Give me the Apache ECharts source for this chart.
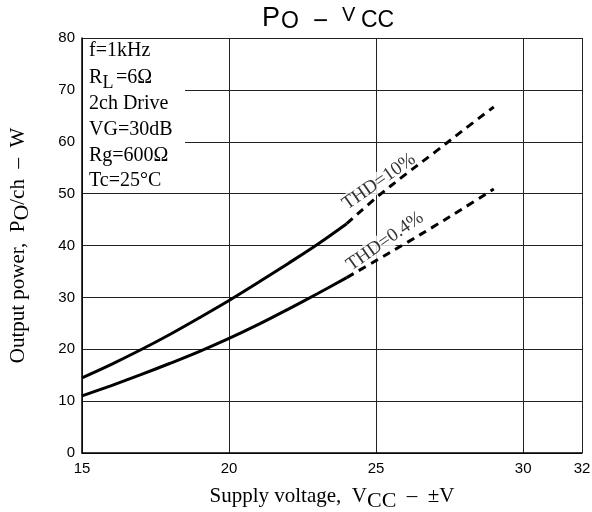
<!DOCTYPE html>
<html><head><meta charset="utf-8">
<script src="https://cdn.jsdelivr.net/npm/echarts@6/dist/echarts.min.js"></script>
<style>html,body{margin:0;padding:0;background:#fff}#c{width:592px;height:512px}</style>
</head><body><div id="c"></div>
<script>
// Data
const xTicks = [15, 20, 25, 30, 32];
const yTicks = [0, 10, 20, 30, 40, 50, 60, 70, 80];
const thd10Solid = [[15,14.5],[16,17.1],[17,19.9],[18,22.9],[19,26.1],[20,29.4],[21,32.9],[22,36.5],[23,40.2],[24,44.2]];
const thd10Dash = [[24,44.2],[25,49.2],[26,53.7],[27,58.0],[28,62.4],[29,66.7]];
const thd04Solid = [[15,11.0],[16,13.0],[17,15.1],[18,17.3],[19,19.6],[20,22.1],[21,24.8],[22,27.7],[23,30.7],[24,33.8]];
const thd04Dash = [[24,33.8],[25,37.1],[26,40.4],[27,43.8],[28,47.3],[29,50.9]];
const curveLabels = [['THD=10%', 25.1, 52.3], ['THD=0.4%', 25.3, 40.8]];
const conditions = ['f=1kHz', 'R_L=6Ω', '2ch Drive', 'VG=30dB', 'Rg=600Ω', 'Tc=25°C'];

const serif = '"Liberation Serif", "Times New Roman", serif';
const sans = '"Liberation Sans", Arial, sans-serif';
const chart = echarts.init(document.getElementById('c'));

function lineSeries(data, dashed) {
  return {
    type: 'line', data: data, smooth: 0.35, symbol: 'none', silent: true,
    lineStyle: { color: '#000', width: 3, type: dashed ? [8, 6] : 'solid', cap: 'butt' },
    z: 4
  };
}

const g = [];
g.push({ type: 'rect', left: 83, top: 39, shape: { width: 102, height: 150 }, style: { fill: '#fff' }, z: 10 });
const baseY = [51, 78, 104, 130, 156, 181];
function txt(t, x, y, size, fam) {
  g.push({ type: 'text', x: x, y: y, z: 11, style: { text: t, font: size + 'px ' + fam, fill: '#000', verticalAlign: 'middle', align: 'left' } });
}
conditions.forEach((t, i) => {
  if (t.indexOf('_') >= 0) {
    const parts = t.split('_');
    txt(parts[0], 89, baseY[i], 20, serif);
    txt(parts[1].charAt(0), 102.5, baseY[i] + 5, 18, serif);
    txt(parts[1].slice(1), 116, baseY[i], 20, serif);
  } else {
    txt(t, 89, baseY[i], 20, serif);
  }
});

// title pieces
txt('P', 262, 18.5, 27, sans);
txt('O', 281, 21.5, 23, sans);
txt('−', 313, 22, 26, sans);
txt('V', 342, 15, 20, sans);
txt('CC', 361, 20.5, 23, sans);

const nameRich = {
  a: { fontFamily: serif, fontSize: 21, color: '#000', lineHeight: 26 },
  s: { fontFamily: serif, fontSize: 22, color: '#000', lineHeight: 26, padding: [9, 0, 0, 0] }
};

const option = {
  backgroundColor: '#fff',
  animation: false,
  grid: { left: 82, right: 10, top: 38, bottom: 59, containLabel: false, outerBoundsMode: 'none' },
  xAxis: {
    type: 'value', min: 15, max: 32, interval: 5,
    axisLine: { show: true, lineStyle: { color: '#000', width: 1.5 } },
    axisTick: { show: false },
    axisLabel: { color: '#000', fontFamily: sans, fontSize: 15, margin: 8, showMaxLabel: true },
    splitLine: { show: true, lineStyle: { color: '#222', width: 1 } },
    name: '{a|Supply voltage,  V}{s|CC}{a|  –  ±V}',
    nameLocation: 'middle', nameGap: 28,
    nameTextStyle: { rich: nameRich }
  },
  yAxis: {
    type: 'value', min: 0, max: 80, interval: 10,
    axisLine: { show: true, lineStyle: { color: '#000', width: 1.5 } },
    axisTick: { show: false },
    axisLabel: { color: '#000', fontFamily: sans, fontSize: 15, margin: 7 },
    splitLine: { show: true, lineStyle: { color: '#222', width: 1 } },
    name: '{a|Output power,  P}{s|O}{a|/ch  –  W}',
    nameLocation: 'middle', nameGap: 51,
    nameTextStyle: { rich: nameRich }
  },
  graphic: g,
  series: [
    lineSeries(thd10Solid, false),
    lineSeries(thd10Dash, true),
    lineSeries(thd04Solid, false),
    lineSeries(thd04Dash, true),
    {
      type: 'scatter', symbolSize: 0, silent: true, z: 2,
      data: curveLabels.map(c => ({ value: [c[1], c[2]], name: c[0] })),
      label: {
        show: true, position: 'inside', rotate: 35, formatter: p => p.name,
        fontFamily: serif, fontSize: 19, color: '#000', backgroundColor: '#fff', padding: [0, 1]
      }
    }
  ]
};
chart.setOption(option);
</script>
</body></html>
